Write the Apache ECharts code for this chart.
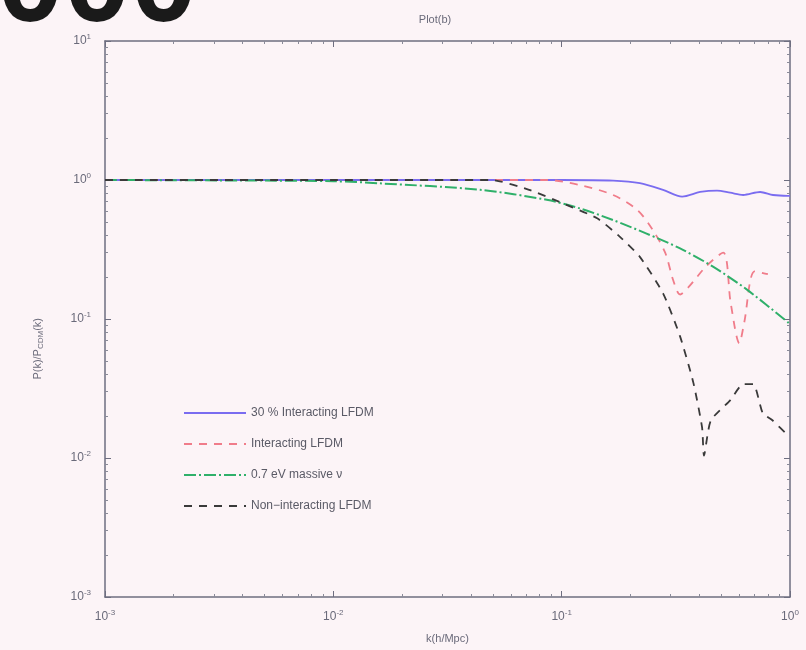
<!DOCTYPE html>
<html><head><meta charset="utf-8">
<script src="https://cdn.jsdelivr.net/npm/echarts@6/dist/echarts.min.js"></script>
<style>html,body{margin:0;padding:0;background:#fcf4f7;}#c{width:806px;height:650px;}</style>
</head><body><div id="c"></div>
<script>
// ---- data ----
const seriesNames = ['30 % Interacting LFDM', 'Interacting LFDM', '0.7 eV massive \u03bd', 'Non\u2212interacting LFDM'];
const xTicks = [0.001, 0.01, 0.1, 1];
const yTicks = [0.001, 0.01, 0.1, 1, 10];

const kBlue = [0.001, 0.01, 0.05, 0.1, 0.168, 0.22, 0.278, 0.337, 0.404, 0.479, 0.547, 0.624, 0.74, 0.843, 0.98, 1.0];
const vBlue = [1.0, 1.0, 1.0, 1.0, 0.99, 0.95, 0.85, 0.76, 0.82, 0.84, 0.81, 0.78, 0.82, 0.78, 0.77, 0.77];

const kRed = [0.001, 0.01, 0.05, 0.086, 0.12, 0.168, 0.214, 0.25, 0.284, 0.308, 0.33, 0.36, 0.43, 0.51, 0.55, 0.6, 0.63, 0.7, 0.8];
const vRed = [1.0, 1.0, 1.0, 1.0, 0.92, 0.78, 0.61, 0.44, 0.30, 0.19, 0.15, 0.17, 0.24, 0.30, 0.13, 0.067, 0.094, 0.22, 0.21];

const kGreen = [0.001, 0.005, 0.01, 0.016, 0.044, 0.086, 0.12, 0.168, 0.234, 0.33, 0.46, 0.65, 1.0];
const vGreen = [1.0, 0.99, 0.98, 0.946, 0.85, 0.72, 0.625, 0.515, 0.413, 0.322, 0.238, 0.162, 0.092];

const kBlack = [0.001, 0.01, 0.049, 0.072, 0.101, 0.143, 0.18, 0.22, 0.278, 0.33, 0.377, 0.412, 0.42, 0.45, 0.547, 0.624, 0.69, 0.76, 0.84, 0.98];
const vBlack = [1.0, 1.0, 1.0, 0.85, 0.68, 0.53, 0.39, 0.28, 0.153, 0.075, 0.035, 0.0166, 0.0104, 0.0186, 0.026, 0.034, 0.034, 0.021, 0.0186, 0.0145];

const colors = ['#7a6cf0', '#f07c8a', '#2fb06a', '#3a3a3a'];

function pairs(k, v) { return k.map((x, i) => [x, v[i]]); }

function fmt(val) {
  const e = Math.round(Math.log10(val));
  return '{b|10}{s|' + e + '}';
}
const rich = {
  b: {fontSize: 12, color: '#6a6a7a', fontFamily: 'Liberation Sans'},
  s: {fontSize: 8, color: '#6a6a7a', verticalAlign: 'top', padding: [0, 0, 8, 0], fontFamily: 'Liberation Sans'}
};
const axisLine = {lineStyle: {color: '#6e6e80', width: 1.5}};
const tick = {inside: true, length: 6, lineStyle: {color: '#6e6e80'}};
const minor = {show: true, splitNumber: 9, length: 3, lineStyle: {color: '#8a8a98'}};

const chart = echarts.init(document.getElementById('c'));
const option = {
  backgroundColor: '#fcf4f7',
  animation: false,
  title: {
    text: 'Plot(b)', left: 430, top: 9, textAlign: 'center',
    textStyle: {fontSize: 11, fontWeight: 'normal', color: '#6a6a7a', fontFamily: 'Liberation Sans'}
  },
  graphic: [
    {type: 'text', left: -3, top: -72, style: {text: '000', font: 'bold 120px "Liberation Sans"', fill: '#1a1a1a'}},
    {type: 'text', left: 32, top: 318, rotation: Math.PI / 2,
      style: {text: '{a|P(k)/P}{c|CDM}{a|(k)}', textAlign: 'center', textVerticalAlign: 'middle',
        rich: {a: {fontSize: 11, fill: '#6a6a7a', fontFamily: 'Liberation Sans'},
               c: {fontSize: 8, fill: '#6a6a7a', verticalAlign: 'bottom', padding: [6, 0, 0, 0], fontFamily: 'Liberation Sans'}}}}
  ],
  legend: {
    orient: 'vertical', left: 178, top: 402, itemWidth: 62, itemHeight: 14, itemGap: 19,
    data: seriesNames,
    itemStyle: {opacity: 0},
    textStyle: {fontSize: 12, color: '#5a5a66', fontFamily: 'Liberation Sans'}
  },
  grid: {left: 105, right: 16, top: 41, bottom: 53},
  xAxis: [
    {type: 'log', logBase: 10, min: 0.001, max: 1, position: 'bottom',
     name: 'k(h/Mpc)', nameLocation: 'middle', nameGap: 36,
     nameTextStyle: {fontSize: 11, color: '#6a6a7a', fontFamily: 'Liberation Sans'},
     axisLine: axisLine, axisTick: tick, minorTick: minor, splitLine: {show: false},
     axisLabel: {formatter: fmt, rich: rich, margin: 12}},
    {type: 'log', logBase: 10, min: 0.001, max: 1, position: 'top',
     axisLine: axisLine, axisTick: tick, minorTick: minor, splitLine: {show: false}, axisLabel: {show: false}}
  ],
  yAxis: [
    {type: 'log', logBase: 10, min: 0.001, max: 10, position: 'left',
     axisLine: axisLine, axisTick: tick, minorTick: minor, splitLine: {show: false},
     axisLabel: {formatter: fmt, rich: rich, margin: 14}},
    {type: 'log', logBase: 10, min: 0.001, max: 10, position: 'right',
     axisLine: axisLine, axisTick: tick, minorTick: minor, splitLine: {show: false}, axisLabel: {show: false}}
  ],
  series: [
    {name: seriesNames[0], type: 'line', data: pairs(kBlue, vBlue), symbol: 'none', smooth: 0.3,
     lineStyle: {color: colors[0], width: 1.8, type: 'solid'}, itemStyle: {color: colors[0]}, z: 3},
    {name: seriesNames[1], type: 'line', data: pairs(kRed, vRed), symbol: 'none', smooth: 0.3,
     lineStyle: {color: colors[1], width: 1.8, type: [8, 7]}, itemStyle: {color: colors[1]}, z: 4},
    {name: seriesNames[2], type: 'line', data: pairs(kGreen, vGreen), symbol: 'none', smooth: 0.3,
     lineStyle: {color: colors[2], width: 2, type: [12, 3, 2, 3]}, itemStyle: {color: colors[2]}, z: 5},
    {name: seriesNames[3], type: 'line', data: pairs(kBlack, vBlack), symbol: 'none', smooth: 0.2,
     lineStyle: {color: colors[3], width: 1.8, type: [8, 7]}, itemStyle: {color: colors[3]}, z: 6}
  ]
};
chart.setOption(option);
</script>
</body></html>
